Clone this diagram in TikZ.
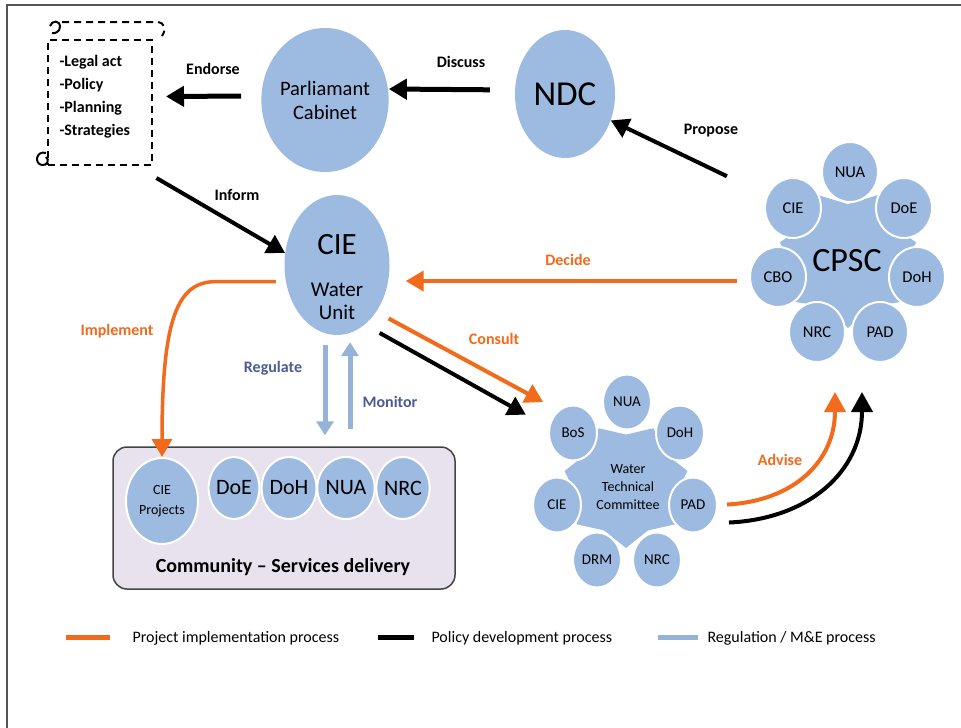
\documentclass[tikz,border=0pt]{standalone}
\usepackage{fontspec}
\setmainfont{Carlito}
\usetikzlibrary{shapes.geometric,arrows.meta}
\definecolor{cbub}{HTML}{9DBAE1}
\definecolor{corg}{HTML}{F26A1B}
\definecolor{cblu}{HTML}{95B3D7}
\definecolor{ctxtb}{HTML}{4B5B94}
\definecolor{clav}{HTML}{E8E1EE}
\definecolor{cframe}{HTML}{555555}
\definecolor{cbox}{HTML}{444444}
\newcommand\fsz[2]{\fontsize{#1}{#2}\selectfont}
\begin{document}
\begin{tikzpicture}[x=1pt,y=-1pt,
  bub/.style={ellipse,fill=cbub,inner sep=0pt},
  sat/.style={ellipse,fill=cbub,draw=white,line width=2pt,minimum width=56pt,minimum height=60pt,inner sep=0pt,font=\fsz{16.5}{18}},
  wsat/.style={ellipse,fill=cbub,draw=white,line width=2pt,minimum width=48pt,minimum height=55pt,inner sep=0pt,font=\fsz{15}{17}},
  csat/.style={ellipse,fill=cbub,draw=white,line width=2pt,minimum width=48pt,minimum height=62pt,inner sep=0pt,font=\fsz{22}{24}},
  gear/.style={star,star points=7,fill=cbub,inner sep=0pt,shape border rotate=25.714},
  dashbox/.style={draw,line width=2pt,dash pattern=on 7pt off 5pt},
  lbl/.style={font=\bfseries\fsz{16}{18}},
  olbl/.style={font=\bfseries\fsz{16}{18},text=corg},
  blbl/.style={font=\bfseries\fsz{16}{18},text=ctxtb},
  barr/.style={draw=black,line width=4pt,-{Triangle[length=18pt,width=20pt]}},
  oarr/.style={draw=corg,line width=4pt,-{Triangle[length=18pt,width=20pt]}},
  blarr/.style={draw=cblu,line width=5pt,-{Triangle[length=14pt,width=17pt]}},
  lgtxt/.style={anchor=west,font=\fsz{16}{18}}
]
\useasboundingbox (0,0) rectangle (961,728);
\fill[white] (0,0) rectangle (961,728);
\draw[cframe,line width=1.5pt] (7,728) -- (7,5) -- (961,5);

% documents scroll
\node[dashbox,minimum width=104pt,minimum height=125pt,inner sep=0pt] (docs) at (100,102.5) {};
\draw[dashbox] (62,22) -- (156,22) .. controls (166,22) and (166,30) .. (162,36);
\draw[line width=2pt] (50,26) .. controls (52,20) and (60,20) .. (60,27) .. controls (60,32) and (54,34) .. (52,33);
\draw[line width=2pt] (46,153) .. controls (36,150) and (34,164) .. (42,165) .. controls (47,166) and (50,160) .. (46,157);
\node[anchor=west,align=left,font=\bfseries\fsz{16}{23}] (doclist) at (56,96.5) {-Legal act\\-Policy\\-Planning\\-Strategies};

% main bubbles
\node[bub,minimum width=110pt,minimum height=144pt,align=center,font=\fsz{20.5}{24}] (parl) at (325,100) {Parliamant\\Cabinet};
\node[bub,minimum width=100pt,minimum height=128pt,font=\fsz{35}{37}] (ndc) at (565,94) {NDC};
\node[bub,minimum width=105pt,minimum height=140pt] (wu) at (337,265) {};
\node[font=\fsz{31}{33}] (wuA) at (337,245) {CIE};
\node[font=\fsz{21}{23},align=center] (wuB) at (337,301) {Water\\Unit};

% CPSC cluster
\node[gear,star point ratio=1.3,minimum size=140pt] (cpsc) at (848,258) {};
\node[sat] (cnua) at (850,172) {NUA};
\node[sat] (cdoe) at (904,208) {DoE};
\node[sat] (cdoh) at (917,277) {DoH};
\node[sat] (cpad) at (880,332) {PAD};
\node[sat] (cnrc) at (817,332) {NRC};
\node[sat] (ccbo) at (778,277) {CBO};
\node[sat] (ccie) at (793,208) {CIE};
\node[font=\fsz{34}{36}] (cpscT) at (847,261) {CPSC};

% Water Technical Committee cluster
\node[gear,star point ratio=1.25,minimum size=126pt] (wtc) at (626,485) {};
\node[wsat] (wnua) at (627,402) {NUA};
\node[wsat] (wdoh) at (680,433) {DoH};
\node[wsat] (wpad) at (693,505) {PAD};
\node[wsat] (wnrc) at (657,560) {NRC};
\node[wsat] (wdrm) at (597,560) {DRM};
\node[wsat] (wcie) at (557,505) {CIE};
\node[wsat] (wbos) at (573,433) {BoS};
\node[align=center,font=\fsz{14}{18}] (wtcT) at (628,487) {Water\\Technical\\Committee};

% Community box
\node[draw=cbox,line width=1.5pt,fill=clav,rounded corners=14pt,minimum width=342pt,minimum height=142pt] (comm) at (284,518) {};
\node[ellipse,fill=cbub,draw=white,line width=2pt,minimum width=72pt,minimum height=86pt,inner sep=0pt,align=center,font=\fsz{14}{20}] (cieproj) at (162,501) {CIE\\Projects};
\node[csat] (kdoe) at (234,488) {DoE};
\node[csat] (kdoh) at (289,488) {DoH};
\node[csat] (knua) at (346,488) {NUA};
\node[csat] (knrc) at (403,488) {NRC};
\node[font=\bfseries\fsz{20}{22}] (commT) at (283,567) {Community -- Services delivery};

% black arrows
\draw[barr,line width=5pt,shorten <=20pt,shorten >=13pt] ([yshift=4pt]parl.west) -- ([yshift=6pt]docs.east);
\draw[barr,line width=5pt,shorten <=25pt] ([yshift=4pt]ndc.west) -- ([yshift=11pt]parl.east);
\draw[barr,shorten <=44pt] (ccie) -- (ndc.-30);
\draw[barr,shorten <=4pt] ([yshift=-10pt]docs.south east) -- (wu.167);
\draw[barr,shorten <=17pt,shorten >=26pt] (wu.-65) -- (wbos.167);

% orange arrows
\draw[oarr,shorten <=12pt,shorten >=16pt] (ccbo.188) -- (ccbo.188 -| wu.east);
\draw[oarr,line width=3.5pt,shorten <=10pt] (wu.198) -- ++(-70,0) .. controls +(-38,0) and +(0,-140) .. (cieproj.north);
\draw[oarr,shorten <=14pt,shorten >=17pt] (wu.-50) -- (wbos.123);

% regulate / monitor
\draw[blarr,shorten <=10pt,shorten >=11pt] ([xshift=-12pt]wu.south) -- ([xshift=-12pt]wu.south |- comm.north);
\draw[blarr,shorten <=17pt,shorten >=7pt] ([xshift=13pt]wu.south |- comm.north) -- ([xshift=13pt]wu.south);

% advise
\coordinate (advO) at (835,392);
\coordinate (advB) at (862,392);
\draw[oarr,shorten <=9pt,-{Triangle[length=20pt,width=21pt]}] (wpad.east) .. controls +(75,-4) and +(0,70) .. (advO);
\draw[barr,shorten <=11pt,-{Triangle[length=20pt,width=21pt]}] ([yshift=-18pt]wpad.east) .. controls +(90,-4) and +(0,80) .. (advB);

% labels
\node[lbl] (lEndorse) at (213,69) {Endorse};
\node[lbl] (lDiscuss) at (461,62) {Discuss};
\node[lbl] (lPropose) at (711,131) {Propose};
\node[lbl] (lInform) at (237,195) {Inform};
\node[olbl] (lDecide) at (568,260) {Decide};
\node[olbl] (lImpl) at (117,331) {Implement};
\node[olbl] (lConsult) at (494,339) {Consult};
\node[blbl] (lReg) at (273,368) {Regulate};
\node[blbl] (lMon) at (390,402) {Monitor};
\node[olbl] (lAdvise) at (780,460) {Advise};

% legend
\draw[corg,line width=5pt] (66,637) -- (110,637);
\node[lgtxt] (lg1) at (129,638) {Project implementation process};
\draw[black,line width=5pt] (378,637) -- (414,637);
\node[lgtxt] (lg2) at (428,638) {Policy development process};
\draw[cblu,line width=5pt] (658,637) -- (698,637);
\node[lgtxt] (lg3) at (704,638) {Regulation / M\&E process};
\end{tikzpicture}
\end{document}
